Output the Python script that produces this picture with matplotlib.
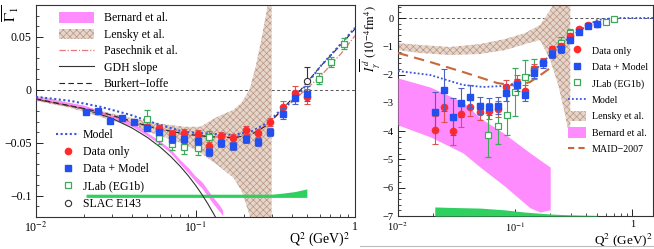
import matplotlib
matplotlib.use("Agg")
import matplotlib.pyplot as plt
import numpy as np
from matplotlib.lines import Line2D
from matplotlib.patches import Patch

plt.rcParams['font.family'] = ['Liberation Serif', 'DejaVu Serif']
plt.rcParams['mathtext.fontset'] = 'stix'
plt.rcParams['hatch.linewidth'] = 0.5

# ---------------- left panel data ----------------
blue_q2 = [0.0206, 0.0245, 0.0292, 0.0347, 0.0413, 0.0499, 0.0594, 0.0717, 0.0841, 0.103,
           0.121, 0.144, 0.173, 0.206, 0.245, 0.292, 0.352, 0.420, 0.499]
blue_g1 = [-0.0208, -0.0198, -0.0292, -0.0264, -0.0302, -0.0358, -0.0396, -0.0462, -0.0462, -0.0481,
           -0.0585, -0.0500, -0.0528, -0.0462, -0.0491, -0.0396, -0.0226, -0.0075, -0.0038]
blue_err = [0.002, 0.002, 0.002, 0.002, 0.002, 0.003, 0.003, 0.004, 0.004, 0.004,
            0.004, 0.004, 0.004, 0.004, 0.004, 0.004, 0.005, 0.006, 0.007]

red_q2 = [0.0499, 0.0594, 0.0717, 0.0841, 0.103, 0.121, 0.144, 0.173, 0.206, 0.245, 0.292, 0.352, 0.420, 0.499]
red_g1 = [-0.0349, -0.0358, -0.0415, -0.0406, -0.0415, -0.0528, -0.0434, -0.0453, -0.0377, -0.0406,
          -0.0302, -0.0160, -0.0028, -0.0066]
red_err = [0.003, 0.003, 0.004, 0.004, 0.004, 0.004, 0.004, 0.004, 0.004, 0.004, 0.004, 0.005, 0.006, 0.007]

eg1b_q2 = [0.0499, 0.0594, 0.0717, 0.0841, 0.103, 0.121, 0.594, 0.706, 0.853]
eg1b_g1 = [-0.0274, -0.0453, -0.0509, -0.0538, -0.0547, -0.0450, 0.0104, 0.0264, 0.0434]
eg1b_err = [0.008, 0.006, 0.006, 0.007, 0.007, 0.006, 0.005, 0.005, 0.005]

slac_q2 = [0.5]
slac_g1 = [0.0085]
slac_err = [0.013]

model_q2 = [0.01, 0.0164, 0.0253, 0.039, 0.0521, 0.0841, 0.124, 0.173, 0.222, 0.284, 0.328, 0.413, 0.457, 0.611, 0.816, 1.0]
model_g1 = [-0.0066, -0.0104, -0.0160, -0.0236, -0.0302, -0.0396, -0.0415, -0.0425, -0.0396, -0.0311,
            -0.0217, -0.0094, -0.0019, 0.0226, 0.0434, 0.0585]

bi_q2 = [0.01, 0.0253, 0.0521, 0.0841, 0.124, 0.173, 0.222, 0.284, 0.366, 0.457, 0.611, 0.816, 1.0]
bi_g1 = [-0.0085, -0.0208, -0.0349, -0.0415, -0.0443, -0.0453, -0.0425, -0.0330, -0.0151, 0.0,
         0.0226, 0.0425, 0.0575]

pas_q2 = [0.01, 0.0253, 0.0521, 0.0841, 0.124, 0.173, 0.222, 0.284, 0.366, 0.49, 0.611, 0.816, 1.0]
pas_g1 = [-0.0085, -0.0217, -0.0358, -0.0425, -0.0443, -0.0443, -0.0415, -0.0321, -0.0170, 0.0,
          0.0132, 0.034, 0.051]

gdh_q2 = [0.01, 0.02, 0.03, 0.04, 0.05, 0.06, 0.07, 0.08, 0.09, 0.10, 0.11, 0.12, 0.13, 0.14]
gdh_g1 = [-0.009, -0.018, -0.027, -0.036, -0.045, -0.054, -0.063, -0.072, -0.081, -0.090, -0.099,
          -0.108, -0.117, -0.126]

bern_q2 = [0.01, 0.02, 0.03, 0.04, 0.05, 0.06, 0.07, 0.08, 0.09, 0.10, 0.11, 0.12, 0.13, 0.14, 0.148]
bern_lo = [-0.0095, -0.0175, -0.0265, -0.0345, -0.0435, -0.0515, -0.0598, -0.0700, -0.0785, -0.0865,
           -0.0930, -0.1010, -0.1080, -0.1140, -0.1185]
bern_hi = [-0.0065, -0.0145, -0.0235, -0.0315, -0.0405, -0.0485, -0.0562, -0.0660, -0.0735, -0.0815,
           -0.0870, -0.0950, -0.1020, -0.1080, -0.1135]

lensky_q2 = [0.01, 0.0164, 0.0253, 0.039, 0.0603, 0.0865, 0.107, 0.137, 0.173, 0.194, 0.218, 0.239, 0.26, 0.284, 0.30]
lensky_hi = [-0.0057, -0.0123, -0.0198, -0.0264, -0.0321, -0.0349, -0.0349, -0.0255, -0.0189, -0.0123,
             0.0, 0.0226, 0.049, 0.080, 0.104]
lensky_lo = [-0.0104, -0.017, -0.0255, -0.034, -0.0434, -0.0519, -0.0594, -0.0708, -0.083, -0.095,
             -0.118, -0.14, -0.14, -0.14, -0.14]

sys_q2 = [0.0206, 0.05, 0.1, 0.2, 0.3, 0.352, 0.42, 0.499]
sys_lo = [-0.1015, -0.1015, -0.1015, -0.1015, -0.1015, -0.1015, -0.1015, -0.1015]
sys_hi = [-0.0985, -0.0985, -0.0985, -0.0985, -0.0985, -0.0975, -0.0960, -0.0935]

# ---------------- right panel data ----------------
r_q2 = [0.0206, 0.0245, 0.0292, 0.0347, 0.0413, 0.0499, 0.0594, 0.0717, 0.0841, 0.103,
        0.121, 0.144, 0.173, 0.206, 0.245, 0.292, 0.352, 0.420, 0.499]
r_blue_v = [-3.31, -2.54, -3.49, -2.99, -2.78, -3.11, -3.13, -3.11, -2.64, -2.37,
            -2.72, -1.95, -1.60, -1.27, -1.11, -0.78, -0.48, -0.28, -0.21]
r_blue_err = [0.70, 0.75, 0.65, 0.50, 0.40, 0.30, 0.30, 0.30, 0.28, 0.22,
              0.22, 0.18, 0.15, 0.13, 0.12, 0.10, 0.08, 0.07, 0.06]
r_red_v = [-3.96, -3.13, -3.99, -3.39, -3.13, -3.31, -3.28, -3.22, -2.45, -2.25,
           -2.58, -1.80, -1.54, -1.11, -0.99, -0.64, -0.40, -0.25, -0.20]
r_red_err = [0.50, 0.55, 0.50, 0.45, 0.35, 0.30, 0.28, 0.28, 0.25, 0.22,
             0.20, 0.16, 0.14, 0.12, 0.10, 0.10, 0.08, 0.07, 0.06]

r_eg1b_q2 = [0.0588, 0.0715, 0.0845, 0.100, 0.121, 0.145, 0.245, 0.292, 0.590, 0.700]
r_eg1b_v = [-4.13, -3.82, -3.43, -2.60, -2.10, -1.80, -0.88, -0.53, -0.13, -0.03]
r_eg1b_err = [0.78, 0.65, 0.70, 0.85, 0.60, 0.35, 0.20, 0.15, 0.06, 0.05]

r_model_q2 = [0.01, 0.0188, 0.0359, 0.0533, 0.079, 0.104, 0.134, 0.174, 0.229, 0.295, 0.358, 0.50, 0.688, 1.5]
r_model_v = [-1.873, -2.014, -2.367, -2.438, -2.403, -2.297, -2.014, -1.555, -1.025, -0.671, -0.424, -0.071, 0.0, 0.0]

r_maid_q2 = [0.01, 0.0188, 0.0359, 0.070, 0.104, 0.134, 0.174, 0.199]
r_maid_v = [-1.237, -1.555, -1.908, -2.297, -2.403, -2.261, -1.943, -1.767]

r_bern_q2 = [0.01, 0.0188, 0.0359, 0.0502, 0.079, 0.134, 0.163, 0.199]
r_bern_hi = [-2.12, -2.44, -2.97, -3.53, -4.06, -4.77, -5.02, -5.27]
r_bern_lo = [-3.78, -4.20, -4.77, -5.27, -5.90, -6.71, -6.86, -6.78]

r_lensky_q2 = [0.01, 0.0154, 0.0278, 0.0502, 0.0822, 0.122, 0.163, 0.199, 0.233, 0.267, 0.295]
r_lensky_hi = [-0.883, -0.954, -1.025, -0.919, -0.742, -0.530, -0.247, 0.283, 0.81, 1.34, 1.7]
r_lensky_lo = [-1.131, -1.237, -1.307, -1.272, -1.131, -0.919, -0.777, -1.484, -2.367, -3.43, -4.31]

r_sys_q2 = [0.0206, 0.03, 0.05, 0.08, 0.12, 0.2, 0.3, 0.5]
r_sys_lo = [-7.0, -7.0, -7.0, -7.0, -7.0, -7.0, -7.0, -7.0]
r_sys_hi = [-6.68, -6.70, -6.72, -6.78, -6.86, -6.93, -6.96, -6.98]

# ---------------- colours ----------------
C_RED = '#ff2a2a'
C_BLUE = '#2250f0'
C_GREEN = '#3caa5a'
C_MODEL = '#3a55d8'
C_PINK = '#ff8cff'
C_TAN_F = '#e6d5ca'
C_TAN_H = '#b99684'
C_SYS = '#2ed060'
C_PAS = '#e07a7a'
C_MAID = '#c8683a'

fig = plt.figure(figsize=(6.54, 2.49), dpi=100)
axL = fig.add_axes([36/654, 1-217/249, (355-36)/654, (217-5)/249])
axR = fig.add_axes([398/654, 1-216/249, (653-398)/654, (216-5)/249])

def style(ax):
    ax.set_xscale('log')
    ax.tick_params(which='both', direction='in', top=False, right=False, labelsize=8.5, pad=3)
    ax.tick_params(which='major', length=5, width=0.6)
    ax.tick_params(which='minor', length=2.5, width=0.5)
    for s in ax.spines.values():
        s.set_linewidth(0.8)
        s.set_color('#333333')

# ================= LEFT =================
ax = axL
style(ax)
ax.set_xlim(0.01, 1.0)
ax.set_ylim(-0.12, 0.08)
ax.axhline(0, color='#555555', lw=0.7, ls=(0, (3, 2.5)), zorder=1)

ax.fill_between(lensky_q2, lensky_lo, lensky_hi, facecolor=C_TAN_F, edgecolor=C_TAN_H,
                hatch='xxxxx', lw=0, zorder=2)
ax.fill_between(bern_q2, bern_lo, bern_hi, color=C_PINK, lw=0, zorder=3)
ax.fill_between(sys_q2, sys_lo, sys_hi, color=C_SYS, lw=0, zorder=3)
ax.plot(gdh_q2, gdh_g1, color='#333333', lw=0.8, zorder=4)
ax.plot(pas_q2, pas_g1, color=C_PAS, lw=0.9, ls=(0, (5, 1.5, 1, 1.5)), zorder=4)
ax.plot(bi_q2, bi_g1, color='#222222', lw=0.8, ls=(0, (5, 3)), zorder=4)
ax.plot(model_q2, model_g1, color=C_MODEL, lw=1.5, ls=(0, (1, 1.2)), zorder=5)

ax.errorbar(eg1b_q2, eg1b_g1, yerr=eg1b_err, fmt='s', ms=5, mfc='white', mec=C_GREEN, mew=0.9,
            ecolor=C_GREEN, elinewidth=0.8, capsize=2, capthick=0.8, zorder=6)
ax.errorbar(slac_q2, [slac_g1[0]], yerr=[[0.0], slac_err], fmt='o', ms=4.5, mfc='white', mec='#333333',
            mew=0.8, ecolor='#333333', elinewidth=0.8, capsize=2, capthick=0.8, zorder=6)
ax.errorbar(red_q2, red_g1, yerr=red_err, fmt='o', ms=4.5, color=C_RED, mec=C_RED,
            ecolor='#e05050', elinewidth=0.8, capsize=2, capthick=0.8, zorder=7)
ax.errorbar(blue_q2, blue_g1, yerr=blue_err, fmt='s', ms=4.5, color=C_BLUE, mec=C_BLUE,
            ecolor='#5060c0', elinewidth=0.8, capsize=2, capthick=0.8, zorder=8)

ax.set_yticks([-0.1, -0.05, 0, 0.05])
ax.set_yticklabels(['\u22120.1', '\u22120.05', '0', '0.05'])
ax.yaxis.set_minor_locator(matplotlib.ticker.MultipleLocator(0.01))
ax.set_xticks([0.01, 0.1, 1.0])
ax.set_xticklabels(['10$^{-2}$', '10$^{-1}$', '1'])
ax.text(-0.11, 1.0, r'$\overline{\Gamma_1}$', transform=ax.transAxes, rotation=90,
        ha='left', va='top', fontsize=11)
ax.text(0.985, -0.127, 'Q$^2$ (GeV)$^2$', transform=ax.transAxes, ha='right', va='baseline', fontsize=10)

h1 = [Patch(facecolor=C_PINK, edgecolor='none'),
      Patch(facecolor=C_TAN_F, edgecolor=C_TAN_H, hatch='xxxxx', lw=0),
      Line2D([], [], color=C_PAS, lw=0.9, ls=(0, (5, 1.5, 1, 1.5))),
      Line2D([], [], color='#333333', lw=0.8),
      Line2D([], [], color='#222222', lw=0.8, ls=(0, (5, 3)))]
l1 = ['Bernard et al.', 'Lensky et al.', 'Pasechnik et al.', 'GDH slope', 'Burkert\u2212Ioffe']
leg1 = ax.legend(h1, l1, loc='upper left', bbox_to_anchor=(0.05, 1.0), frameon=False, fontsize=8.5,
                 handlelength=3.0, handleheight=1.0, labelspacing=0.35, handletextpad=0.8, borderaxespad=0.2)
ax.add_artist(leg1)

h2 = [Line2D([], [], color=C_MODEL, lw=1.5, ls=(0, (1, 1.2))),
      Line2D([], [], color=C_RED, marker='o', ls='none', ms=4.5),
      Line2D([], [], color=C_BLUE, marker='s', ls='none', ms=4.5),
      Line2D([], [], color=C_GREEN, marker='s', ls='none', ms=5, mfc='white', mew=0.9),
      Line2D([], [], color='#333333', marker='o', ls='none', ms=4.5, mfc='white', mew=0.8)]
l2 = ['Model', 'Data only', 'Data + Model', 'JLab (EG1b)', 'SLAC E143']
ax.legend(h2, l2, loc='lower left', bbox_to_anchor=(0.04, 0.0), frameon=False, fontsize=8.5,
          handlelength=2.0, labelspacing=0.45, handletextpad=0.3, borderaxespad=0.2)

# ================= RIGHT =================
ax = axR
style(ax)
ax.tick_params(labelsize=7.5)
ax.set_xlim(0.01, 1.5)
ax.set_ylim(-7, 0.46)
ax.axhline(0, color='#555555', lw=0.7, ls=(0, (3, 2.5)), zorder=1)

ax.fill_between(r_lensky_q2, r_lensky_lo, r_lensky_hi, facecolor=C_TAN_F, edgecolor=C_TAN_H,
                hatch='xxxxx', lw=0, zorder=2)
ax.fill_between(r_bern_q2, r_bern_lo, r_bern_hi, color=C_PINK, lw=0, zorder=3)
ax.fill_between(r_sys_q2, r_sys_lo, r_sys_hi, color=C_SYS, lw=0, zorder=3)
ax.plot(r_maid_q2, r_maid_v, color=C_MAID, lw=1.5, ls=(0, (5, 3)), zorder=4)
ax.plot(r_model_q2, r_model_v, color=C_MODEL, lw=1.3, ls=(0, (1, 1.2)), zorder=5)

ax.errorbar(r_eg1b_q2, r_eg1b_v, yerr=r_eg1b_err, fmt='s', ms=4.5, mfc='white', mec=C_GREEN, mew=0.9,
            ecolor=C_GREEN, elinewidth=0.8, capsize=2, capthick=0.8, zorder=6)
ax.errorbar(r_q2, r_red_v, yerr=r_red_err, fmt='o', ms=4.5, color=C_RED, mec=C_RED,
            ecolor='#e05050', elinewidth=0.8, capsize=2, capthick=0.8, zorder=7)
ax.errorbar(r_q2, r_blue_v, yerr=r_blue_err, fmt='s', ms=4.5, color=C_BLUE, mec=C_BLUE,
            ecolor='#5060c0', elinewidth=0.8, capsize=2, capthick=0.8, zorder=8)

ax.set_yticks([-7, -6, -5, -4, -3, -2, -1, 0])
ax.set_yticklabels(['\u22127', '\u22126', '\u22125', '\u22124', '\u22123', '\u22122', '\u22121', '0'])
ax.yaxis.set_minor_locator(matplotlib.ticker.MultipleLocator(0.2))
ax.set_xticks([0.01, 0.1, 1.0])
ax.set_xticklabels(['10$^{-2}$', '10$^{-1}$', '1'])
ax.text(-0.155, 1.0, r'$\overline{I_\gamma^{\,d}}\;(10^{-4}\mathrm{fm}^4)$', transform=ax.transAxes,
        rotation=90, ha='left', va='top', fontsize=9)
ax.text(1.0, -0.133, 'Q$^2$ (GeV)$^2$', transform=ax.transAxes, ha='right', va='baseline', fontsize=9.5)

h3 = [Line2D([], [], color=C_RED, marker='o', ls='none', ms=4.5),
      Line2D([], [], color=C_BLUE, marker='s', ls='none', ms=4.5),
      Line2D([], [], color=C_GREEN, marker='s', ls='none', ms=4.5, mfc='white', mew=0.9),
      Line2D([], [], color=C_MODEL, lw=1.3, ls=(0, (1, 1.2))),
      Patch(facecolor=C_TAN_F, edgecolor=C_TAN_H, hatch='xxxxx', lw=0),
      Patch(facecolor=C_PINK, edgecolor='none'),
      Line2D([], [], color=C_MAID, lw=1.5, ls=(0, (3, 2)))]
l3 = ['Data only', 'Data + Model', 'JLab (EG1b)', 'Model', 'Lensky et al.', 'Bernard et al.', 'MAID\u22122007']
ax.legend(h3, l3, loc='upper right', bbox_to_anchor=(1.0, 0.835), frameon=False, fontsize=7.2,
          handlelength=1.8, handleheight=1.3, labelspacing=0.55, handletextpad=0.6, borderaxespad=0.1)

fig.add_artist(Line2D([360/654, 1.0], [1-246/249, 1-246/249], color='#bbbbbb', lw=0.8))

fig.savefig('out.png', dpi=100)
